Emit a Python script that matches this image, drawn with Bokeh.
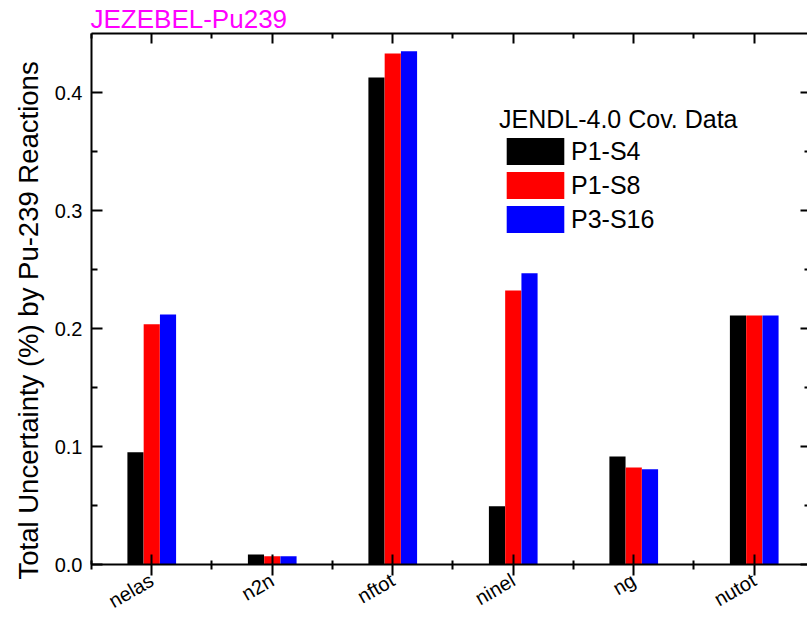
import math
from bokeh.plotting import figure
from bokeh.models import (ColumnDataSource, FixedTicker, LinearAxis, Range1d, Title,
                          Legend, LegendItem, PrintfTickFormatter)
from bokeh.transform import dodge
from bokeh.embed import file_html
from bokeh.resources import INLINE

# ---- data ----
categories = ["nelas", "n2n", "nftot", "ninel", "ng", "nutot"]
p1_s4 = [0.0952, 0.0085, 0.4127, 0.0494, 0.0915, 0.2110]
p1_s8 = [0.2036, 0.0070, 0.4331, 0.2322, 0.0822, 0.2110]
p3_s16 = [0.2119, 0.0070, 0.4350, 0.2469, 0.0808, 0.2110]
series_names = ["P1-S4", "P1-S8", "P3-S16"]
y_ticks = [0.0, 0.1, 0.2, 0.3, 0.4]
y_minor_ticks = [0.05, 0.15, 0.25, 0.35]
title_text = "JEZEBEL-Pu239"
legend_title = "JENDL-4.0 Cov. Data"
y_label = "Total Uncertainty (%) by Pu-239 Reactions"

FONT = "Liberation Sans"
idx = list(range(len(categories)))
src = ColumnDataSource(dict(x=idx, s4=p1_s4, s8=p1_s8, s16=p3_s16))

p = figure(width=807, height=625,
           x_range=Range1d(-0.5, 5.442), y_range=Range1d(0, 0.45),
           output_backend="svg", toolbar_location=None,
           x_axis_location=None, y_axis_location=None,
           min_border_left=91, min_border_right=0,
           min_border_top=33, min_border_bottom=61)
p.outline_line_color = None
p.xgrid.visible = False
p.ygrid.visible = False
p.background_fill_color = "white"
p.border_fill_color = "white"

# title
p.title.text = title_text
p.title.align = "left"
p.title.offset = -1
p.title.standoff = 0
p.title.vertical_align = "bottom"
p.title.text_font = FONT
p.title.text_font_size = "26px"
p.title.text_font_style = "normal"
p.title.text_color = "#FF00FF"

bw = 0.134
colors = ["#000000", "#FF0000", "#0000FF"]
fields = ["s4", "s8", "s16"]
offsets = [-0.135, 0.0, 0.135]
renderers = []
for f, c, off in zip(fields, colors, offsets):
    r = p.vbar(x=dodge("x", off), top=f, width=bw, source=src,
               fill_color=c, line_color=None)
    renderers.append(r)

xt = FixedTicker(ticks=idx, minor_ticks=[i - 0.5 for i in range(len(categories) + 1)])
yt = FixedTicker(ticks=y_ticks, minor_ticks=y_minor_ticks)

def style_axis(ax):
    ax.axis_line_width = 2
    ax.axis_line_color = "black"
    ax.major_tick_line_width = 2
    ax.minor_tick_line_width = 2
    ax.major_tick_line_color = "black"
    ax.minor_tick_line_color = "black"
    ax.major_label_text_font = FONT
    ax.major_label_text_color = "black"

# bottom axis
xb = LinearAxis(ticker=xt,
                major_label_overrides={i: c for i, c in enumerate(categories)},
                major_label_orientation=math.radians(30))
style_axis(xb)
xb.major_tick_in = 10
xb.major_tick_out = 11
xb.minor_tick_in = 4
xb.minor_tick_out = 5
xb.major_label_text_font_size = "20px"
xb.major_label_standoff = 3
p.add_layout(xb, "below")

# top axis (ticks only)
xa = LinearAxis(ticker=xt)
style_axis(xa)
xa.major_tick_in = 10
xa.major_tick_out = 0
xa.minor_tick_in = 5
xa.minor_tick_out = 0
xa.major_label_text_font_size = "0px"
xa.major_label_standoff = 0
p.add_layout(xa, "above")

# left axis
yl = LinearAxis(ticker=yt, formatter=PrintfTickFormatter(format="%.1f"))
style_axis(yl)
yl.major_tick_in = 11
yl.major_tick_out = 0
yl.minor_tick_in = 6
yl.minor_tick_out = 0
yl.major_label_text_font_size = "20px"
yl.major_label_standoff = 9
p.add_layout(yl, "left")

# right axis (tick stubs only, at the window edge)
yr = LinearAxis(ticker=yt)
style_axis(yr)
yr.axis_line_color = None
yr.major_tick_in = 7
yr.major_tick_out = 0
yr.minor_tick_in = 3
yr.minor_tick_out = 0
yr.major_label_text_font_size = "0px"
yr.major_label_standoff = 0
p.add_layout(yr, "right")

# y axis title
p.add_layout(Title(text=y_label, align="left", offset=-15, vertical_align="middle",
                   standoff=13, text_font=FONT, text_font_size="27.5px",
                   text_font_style="normal", text_color="black"), "left")

legend = Legend(items=[LegendItem(label=n, renderers=[r]) for n, r in zip(series_names, renderers)],
                location=(408, 328), title=legend_title,
                title_text_font=FONT, title_text_font_size="25px",
                title_text_font_style="normal", title_text_color="black",
                title_standoff=0,
                label_text_font=FONT, label_text_font_size="25px",
                label_text_color="black",
                glyph_width=72, glyph_height=34, spacing=-2,
                label_standoff=0, padding=0, margin=0,
                border_line_color=None, background_fill_alpha=0)
p.add_layout(legend)

open("out.html", "w").write(file_html(p, INLINE))
